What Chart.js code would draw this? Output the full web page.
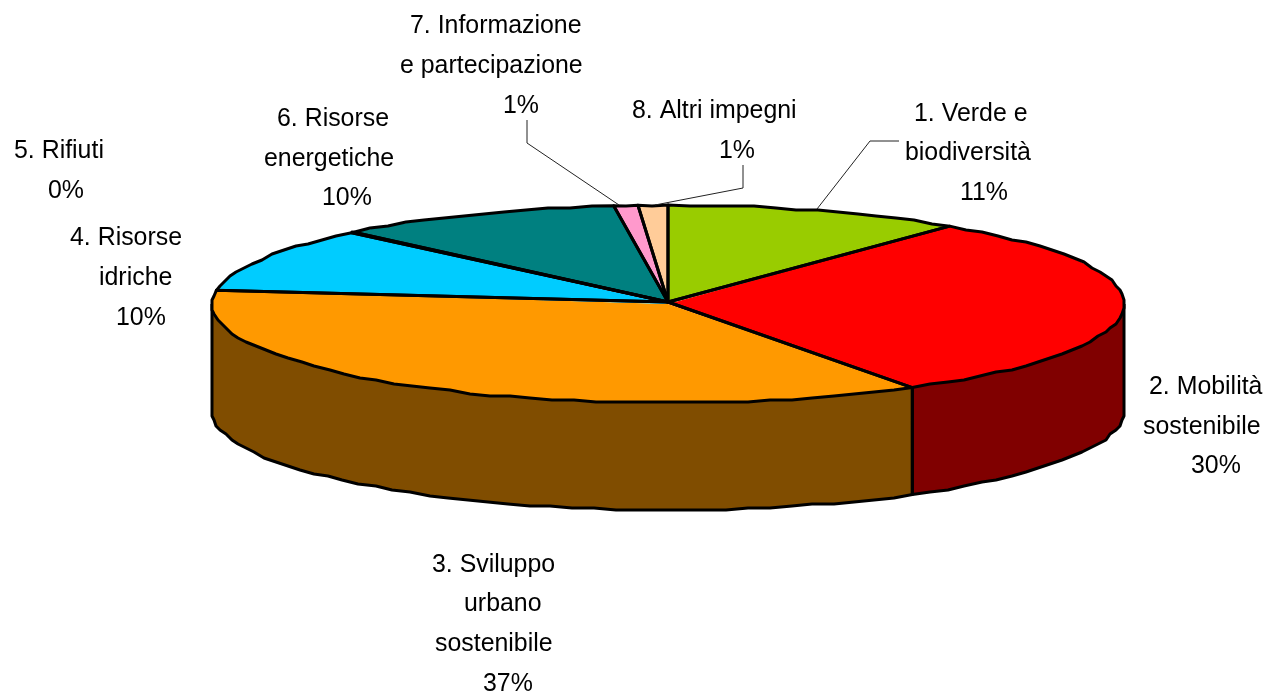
<!DOCTYPE html>
<html><head><meta charset="utf-8">
<style>html,body{margin:0;padding:0;background:#fff}canvas{display:block}</style>
<script src="https://cdn.jsdelivr.net/npm/chart.js@4"></script></head>
<body><canvas id="c" width="1270" height="695"></canvas>
<script>
const categories = [
  ["1. Verde e","biodiversità"],
  ["2. Mobilità","sostenibile"],
  ["3. Sviluppo","urbano","sostenibile"],
  ["4. Risorse","idriche"],
  ["5. Rifiuti"],
  ["6. Risorse","energetiche"],
  ["7. Informazione","e partecipazione"],
  ["8. Altri impegni"]
];
const values = [10.6, 30.4, 36.2, 10.6, 0.1, 10.2, 0.85, 1.05];
const percentLabels = ["11%","30%","37%","10%","0%","10%","1%","1%"];
const topColors = ["#99CC00","#FF0000","#FF9900","#00CCFF","#660066","#008080","#FF99CC","#FFCC99"];
const sideColors = ["#4C6600","#800000","#804D00","#006680","#330033","#004040","#804C66","#80664C"];

// Layout of the text: [left x, middle y] per line, label lines followed by the percentage
const labelPlaces = [
  [[914,114],[905,153],[960,193]],
  [[1149,387],[1143,427],[1191,466]],
  [[432,565],[464,604],[435,644],[483,684]],
  [[70,238],[99,278],[116,318]],
  [[14,151],[48,191]],
  [[277,119],[264,159],[322,198]],
  [[410,26],[400,66],[503,106]],
  [[632,111],[719,151]]
];
const leaders = [
  [[817,209],[870,141],[899,141]],
  [[655,205],[743,188],[743,165]],
  [[619,205],[527,143],[527,120]]
];
const ellipse = {cx:668, cy:304, rx:456, ry:99, depth:107, grid:2, step:22, width:3};

function snap(v){return Math.round(v/ellipse.grid)*ellipse.grid;}
function pt(t,dy){return [ellipse.cx+ellipse.rx*Math.cos(t), ellipse.cy+ellipse.ry*Math.sin(t)+(dy||0)];}
function rim(a0,a1,dy){
  const out=[]; const n=Math.max(2,Math.round(Math.abs(a1-a0)*ellipse.rx/ellipse.step));
  for(let i=0;i<=n;i++){
    const p=pt(a0+(a1-a0)*i/n,dy);
    out.push(i===0||i===n?p:[snap(p[0]),snap(p[1])]);
  }
  return out;
}
function trace(ctx,pts,move){pts.forEach((p,i)=>{(i===0&&move)?ctx.moveTo(p[0],p[1]):ctx.lineTo(p[0],p[1]);});}

const pie3d = {
  id:'pie3d',
  beforeDatasetsDraw(chart){
    const ctx=chart.ctx, arcs=chart.getDatasetMeta(0).data, e=ellipse;
    ctx.lineWidth=e.width; ctx.strokeStyle='#000'; ctx.lineJoin='round';
    arcs.forEach((a,i)=>{
      const s=Math.max(a.startAngle,0), f=Math.min(a.endAngle,Math.PI);
      if(f<=s) return;
      ctx.beginPath();
      trace(ctx,rim(s,f,-5),true);
      trace(ctx,rim(f,s,e.depth),false);
      ctx.closePath();
      ctx.fillStyle=sideColors[i]; ctx.fill();
    });
    arcs.forEach(a=>{
      const s=Math.max(a.startAngle,0), f=Math.min(a.endAngle,Math.PI);
      if(f<=s) return;
      ctx.beginPath();
      trace(ctx,[pt(s,0),pt(s,e.depth)],true);
      trace(ctx,rim(s,f,e.depth),false);
      trace(ctx,[pt(f,e.depth),pt(f,0)],false);
      ctx.stroke();
    });
    const a0=arcs[0], R=a0.outerRadius;
    ctx.save();
    ctx.translate(e.cx,e.cy);
    ctx.scale(e.rx/R,e.ry/R);
    ctx.translate(-a0.x,-a0.y);
  },
  afterDatasetsDraw(chart){
    const ctx=chart.ctx, arcs=chart.getDatasetMeta(0).data, e=ellipse;
    ctx.restore();
    ctx.lineWidth=e.width; ctx.strokeStyle='#000'; ctx.lineJoin='round';
    arcs.forEach(a=>{
      ctx.beginPath();
      ctx.moveTo(e.cx,e.cy-2);
      trace(ctx,rim(a.startAngle,a.endAngle,0),false);
      ctx.closePath();
      ctx.stroke();
    });
    ctx.lineWidth=1; ctx.strokeStyle='#222';
    leaders.forEach(l=>{ctx.beginPath();trace(ctx,l,true);ctx.stroke();});
    ctx.fillStyle='#000';
    ctx.font='24.9px "Liberation Sans", Arial, sans-serif';
    ctx.textAlign='left'; ctx.textBaseline='middle';
    categories.forEach((c,i)=>{
      const lines=c.concat([percentLabels[i]]);
      lines.forEach((t,j)=>{const p=labelPlaces[i][j];ctx.fillText(t,p[0],p[1]);});
    });
  }
};

new Chart(document.getElementById('c'),{
  type:'pie',
  data:{labels:categories.map(c=>c.join(' ')),
    datasets:[{data:values,backgroundColor:topColors,borderWidth:0,clip:false}]},
  options:{responsive:false,animation:false,events:[],
    plugins:{legend:{display:false},tooltip:{enabled:false}}},
  plugins:[pie3d]
});
</script></body></html>
